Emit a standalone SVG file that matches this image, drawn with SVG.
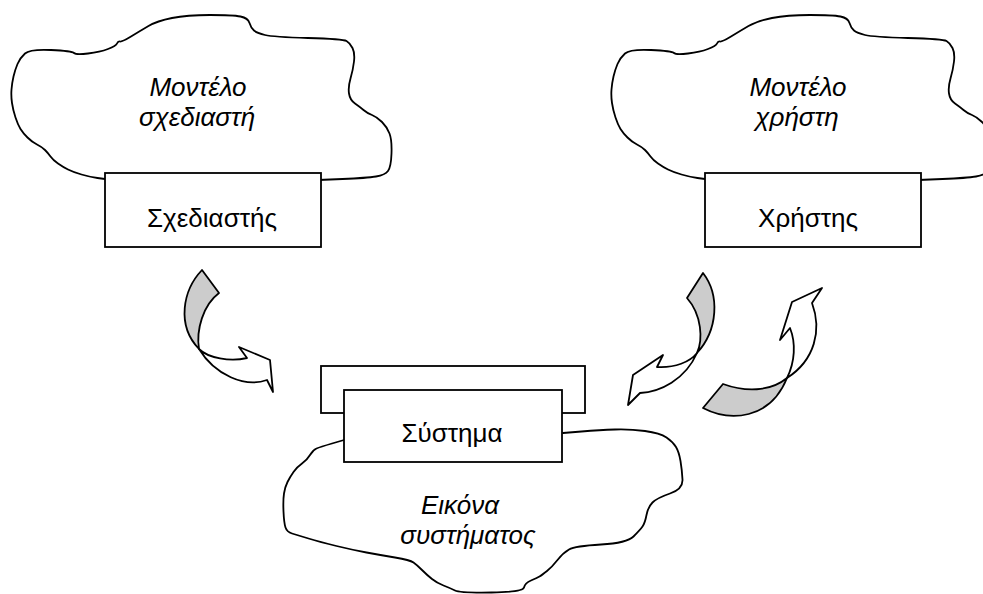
<svg xmlns="http://www.w3.org/2000/svg" width="983" height="594" viewBox="0 0 983 594">
<style>
.ln{fill:#fff;stroke:#000;stroke-width:1.8;stroke-linejoin:round;stroke-linecap:round}
.box{fill:#fff;stroke:#000;stroke-width:1.8}
.gray{fill:#cccccc;stroke:#000;stroke-width:1.8;stroke-linejoin:round}
.wht{fill:#fff;stroke:#000;stroke-width:1.8;stroke-linejoin:round}
.t{font-family:"Liberation Sans",Arial,sans-serif;font-size:26px;fill:#000;text-anchor:middle}
.it{font-style:italic}
</style>
<defs>
<path id="cloudTop" class="ln" d="M105,179 L97.5,178 Q90,177 81.5,174.5 Q73,172 68,169.5 Q63,167 58,163.5 Q53,160 50.5,156.5 Q48,153 45,150 Q42,147 37,144.5 Q32,142 27.5,137.5 Q23,133 20.5,129 Q18,125 15.5,117.5 Q13,110 12,103 Q11,96 11.5,89.5 Q12,83 13.5,76.5 Q15,70 17.5,64 Q20,58 25,53.5 Q30,49 51,50 Q72,51 74,53 Q76,55 88,53.5 Q100,52 108,49 Q116,46 117,43.5 Q118,41 120,41.5 Q122,42 131,36.5 Q140,31 148.5,26 Q157,21 172,18 Q187,15 210,15 Q233,15 240.5,16.5 Q248,18 249.5,23 Q251,28 254,30.5 Q257,33 265,35 Q273,37 308,38 Q343,39 346.5,41 Q350,43 352.5,48 Q355,53 354,61.5 Q353,70 350.5,78.5 Q348,87 349,93.5 Q350,100 355,103.5 Q360,107 363.5,110 Q367,113 372,115 Q377,117 382,122 Q387,127 389.5,133.5 Q392,140 391.5,153.5 Q391,167 388,171 Q385,175 376,176.5 Q367,178 342.5,179 L318,180"/>
</defs>
<g id="designer-model">
<use href="#cloudTop"/>
<text class="t it" x="198" y="96">Μοντέλο</text>
<text class="t it" x="197" y="126">σχεδιαστή</text>
</g>
<g id="designer">
<rect class="box" x="105" y="173" width="216" height="74"/>
<text class="t" x="212" y="227">Σχεδιαστής</text>
</g>
<g id="user-model">
<use href="#cloudTop" transform="translate(600,0)"/>
<text class="t it" x="798" y="96">Μοντέλο</text>
<text class="t it" x="797" y="126">χρήστη</text>
</g>
<g id="user">
<rect class="box" x="705" y="173" width="216" height="74"/>
<text class="t" x="808" y="227">Χρήστης</text>
</g>
<g id="system-image">
<path class="ln" d="M344,440 L332,443.5 Q320,447 316.5,448.5 Q313,450 310,455 Q307,460 302,463.5 Q297,467 293.5,472 Q290,477 287.5,482 Q285,487 284,493.5 Q283,500 283.5,511.5 Q284,523 285.5,527.5 Q287,532 292,533.5 Q297,535 308.5,538.5 Q320,542 336.5,546 Q353,550 366.5,552.5 Q380,555 395,557.5 Q410,560 413.5,562.5 Q417,565 422,570 Q427,575 432,579 Q437,583 443.5,585.5 Q450,588 455,590.5 Q460,593 491.5,592.5 Q523,592 524,587.5 Q525,583 531,580.5 Q537,578 539.5,576.5 Q542,575 547,571 Q552,567 557.5,560 Q563,553 569,549.5 Q575,546 601,544.5 Q627,543 633.5,536.5 Q640,530 642.5,526.5 Q645,523 646.5,515 Q648,507 652.5,502.5 Q657,498 670,493.5 Q683,489 682.5,479.5 Q682,470 680.5,461 Q679,452 676,447 Q673,442 666.5,437.5 Q660,433 645,431 Q630,429 615,429.5 Q600,430 581.5,431.5 L563,433"/>
<text class="t it" x="460" y="514">Εικόνα</text>
<text class="t it" x="468" y="544">συστήματος</text>
</g>
<g id="system">
<rect class="box" x="321" y="366" width="264" height="47"/>
<rect class="box" x="344" y="390" width="218" height="72"/>
<text class="t" x="452" y="442">Σύστημα</text>
</g>
<g id="connectors">
<path class="gray" d="M202,270 C183,290 176,325 199,349 C196,330 203,305 219,293 Z"/>
<path class="wht" d="M199,349 C208,358 230,362 247,358 L239,347 L270,360 L273,392 L267,380 C245,388 215,375 199,349 Z"/>
<path class="gray" d="M703,273 C720,295 718,330 697,353 C703,340 702,315 687,298 Z"/>
<path class="wht" d="M697,353 C690,362 675,368 657,367 L663,355 L633,375 L628,405 L640,393 C660,392 685,380 697,353 Z"/>
<path class="gray" d="M703,408 C730,422 770,420 787,378 C770,392 745,392 723,384 Z"/>
<path class="wht" d="M787,378 C795,362 796,343 790,328 L780,340 L792,302 L822,288 L812,303 C822,330 815,360 787,378 Z"/>
</g>
</svg>
